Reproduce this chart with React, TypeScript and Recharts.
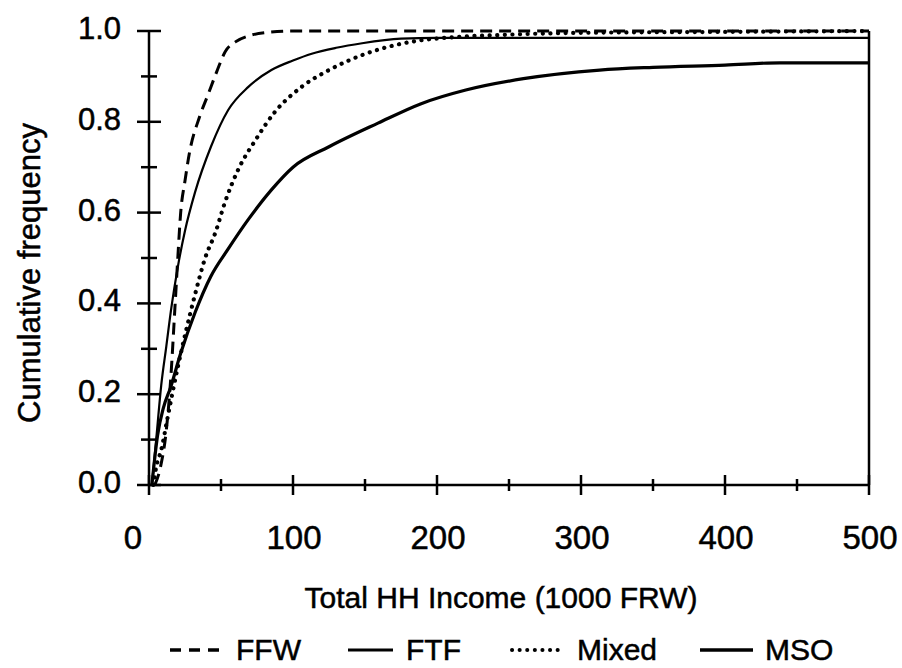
import React from 'react';
import { LineChart, Line, XAxis, YAxis, ReferenceLine, Legend } from 'recharts';

const FONT = '"Liberation Sans", Arial, Helvetica, sans-serif';

// FFW (dashed)
const ffwIncome = [4, 8, 12, 15, 18, 20, 22, 25, 28, 35, 41, 47, 53, 60, 70, 80, 100, 200, 300, 400, 500];
const ffwFreq = [0, 0.04, 0.12, 0.23, 0.39, 0.5, 0.6, 0.67, 0.73, 0.81, 0.86, 0.91, 0.955, 0.976, 0.99, 0.996, 1.0, 1.0, 1.0, 1.0, 1.0];

// FTF (thin solid)
const ftfIncome = [2, 5, 8.5, 12, 15.5, 20, 25, 32, 43, 55, 69, 85, 100, 113, 130, 148, 175, 200, 300, 400, 500];
const ftfFreq = [0, 0.1, 0.22, 0.305, 0.39, 0.48, 0.56, 0.645, 0.745, 0.826, 0.877, 0.914, 0.935, 0.95, 0.963, 0.973, 0.983, 0.985, 0.985, 0.985, 0.985];

// Mixed (dotted)
const mixedIncome = [3, 5, 8.5, 13, 20, 25, 32, 39, 46, 53, 62, 74, 87, 106, 125, 148, 171, 190, 210, 250, 300, 400, 500];
const mixedFreq = [0, 0.04, 0.077, 0.15, 0.26, 0.33, 0.42, 0.5, 0.555, 0.625, 0.695, 0.76, 0.82, 0.877, 0.914, 0.947, 0.969, 0.98, 0.986, 0.992, 0.996, 0.998, 1.0];

// MSO (thick solid)
const msoIncome = [2, 6, 10, 15, 22, 32, 43, 55, 69, 85, 100, 125, 159, 189, 220, 260, 313, 350, 400, 438, 500];
const msoFreq = [0, 0.11, 0.17, 0.215, 0.29, 0.38, 0.46, 0.52, 0.585, 0.65, 0.7, 0.745, 0.797, 0.84, 0.87, 0.895, 0.914, 0.92, 0.925, 0.93, 0.93];

const xTicks = [0, 50, 100, 150, 200, 250, 300, 350, 400, 450, 500];
const yTicks = [0, 0.1, 0.2, 0.3, 0.4, 0.5, 0.6, 0.7, 0.8, 0.9, 1.0];

const legendItems = ['FFW', 'FTF', 'Mixed', 'MSO'];

const toRows = (xs: number[], ys: number[]) => xs.map((x, i) => ({ x, y: ys[i] }));

const ffwData = toRows(ffwIncome, ffwFreq);
const ftfData = toRows(ftfIncome, ftfFreq);
const mixedData = toRows(mixedIncome, mixedFreq);
const msoData = toRows(msoIncome, msoFreq);

const textStyle = { fontFamily: FONT, fill: '#000', stroke: '#000', strokeWidth: 0.5 };

const YTick = (props: any) => {
  const { x, y, payload } = props;
  const v = Number(payload.value);
  const major = Math.round(v * 10) % 2 === 0;
  const len = major ? 12 : 8;
  return (
    <g>
      <line x1={x - len} x2={x + len} y1={y} y2={y} stroke="#000" strokeWidth={2.5} />
      {major && (
        <text x={x - 28} y={y + 8} textAnchor="end" fontSize={31} {...textStyle}>
          {v.toFixed(1)}
        </text>
      )}
    </g>
  );
};

const XTick = (props: any) => {
  const { x, y, payload } = props;
  const v = Number(payload.value);
  const major = v % 100 === 0;
  const len = major ? 10 : 6;
  return (
    <g>
      <line x1={x} x2={x} y1={y - len} y2={y + len} stroke="#000" strokeWidth={2.5} />
      {major && (
        <text x={x + (v === 0 ? -16 : 1)} y={y + 64} textAnchor="middle" fontSize={33} {...textStyle}>
          {v}
        </text>
      )}
    </g>
  );
};

const XTitle = () => (
  <text x={501} y={608} textAnchor="middle" fontSize={30} {...textStyle}>
    Total HH Income (1000 FRW)
  </text>
);

const YTitle = () => (
  <text x={40} y={273} transform="rotate(-90, 40, 273)" textAnchor="middle" fontSize={31} {...textStyle}>
    Cumulative frequency
  </text>
);

const LegendContent = () => {
  const sampleY = 25;
  const textY = 35;
  return (
    <svg width={902} height={43} style={{ display: 'block', overflow: 'visible' }}>
      <line x1={170} x2={221} y1={sampleY} y2={sampleY} stroke="#000" strokeWidth={3.5} strokeDasharray="11 8" />
      <text x={236} y={textY} fontSize={30} {...textStyle}>{legendItems[0]}</text>
      <line x1={348} x2={393} y1={sampleY} y2={sampleY} stroke="#000" strokeWidth={3} />
      <text x={406} y={textY} fontSize={30} {...textStyle}>{legendItems[1]}</text>
      <line x1={512} x2={565} y1={sampleY} y2={sampleY} stroke="#000" strokeWidth={4} strokeDasharray="0.1 7.5" strokeLinecap="round" />
      <text x={577} y={textY} fontSize={30} {...textStyle}>{legendItems[2]}</text>
      <line x1={700} x2={753} y1={sampleY} y2={sampleY} stroke="#000" strokeWidth={3.5} />
      <text x={765} y={textY} fontSize={30} {...textStyle}>{legendItems[3]}</text>
    </svg>
  );
};

export default function App() {
  return (
    <div style={{ position: 'absolute', left: 0, top: 0, width: 902, height: 668, background: '#fff' }}>
      <LineChart width={902} height={668} margin={{ top: 31, right: 33, bottom: 123, left: 0 }}>
        <XAxis
          dataKey="x"
          type="number"
          domain={[0, 500]}
          ticks={xTicks}
          interval={0}
          tickSize={0}
          tickMargin={0}
          tickLine={false}
          tick={<XTick />}
          height={60}
          axisLine={{ stroke: '#000', strokeWidth: 2.5 }}
          allowDataOverflow
          label={<XTitle />}
        />
        <YAxis
          type="number"
          domain={[0, 1]}
          ticks={yTicks}
          interval={0}
          tickSize={0}
          tickMargin={0}
          tickLine={false}
          tick={<YTick />}
          width={149}
          axisLine={{ stroke: '#000', strokeWidth: 2.5 }}
          label={<YTitle />}
        />
        <ReferenceLine x={500} stroke="#000" strokeWidth={2.5} />
        <Line data={ftfData} dataKey="y" type="monotone" stroke="#000" strokeWidth={2.2} dot={false} activeDot={false} isAnimationActive={false} />
        <Line data={msoData} dataKey="y" type="monotone" stroke="#000" strokeWidth={3.2} dot={false} activeDot={false} isAnimationActive={false} />
        <Line data={mixedData} dataKey="y" type="monotone" stroke="#000" strokeWidth={4.2} strokeDasharray="0.1 7.5" strokeLinecap="round" dot={false} activeDot={false} isAnimationActive={false} />
        <Line data={ffwData} dataKey="y" type="monotone" stroke="#000" strokeWidth={3} strokeDasharray="12 7" dot={false} activeDot={false} isAnimationActive={false} />
        <Legend
          layout="horizontal"
          verticalAlign="middle"
          align="center"
          content={<LegendContent />}
          wrapperStyle={{ position: 'absolute', left: 0, top: 625, width: 902, height: 43 }}
        />
      </LineChart>
    </div>
  );
}
